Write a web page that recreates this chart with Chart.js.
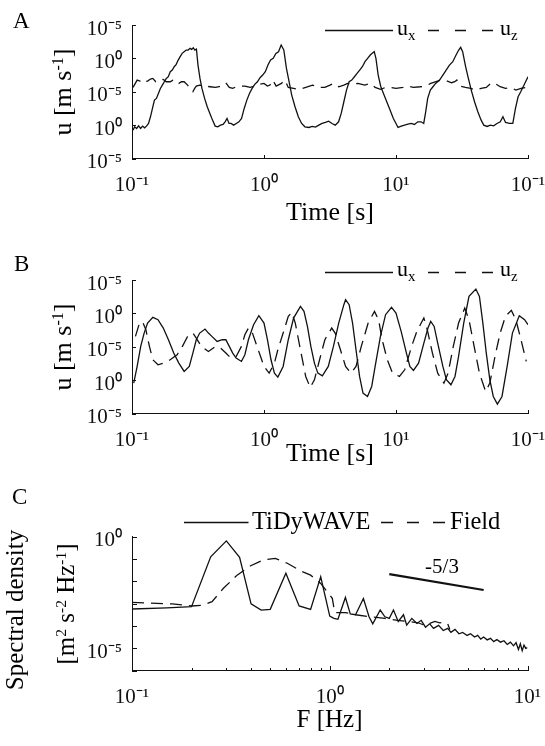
<!DOCTYPE html>
<html><head><meta charset="utf-8">
<script src="https://cdn.jsdelivr.net/npm/chart.js@4"></script>
<style>
html,body{margin:0;padding:0;background:#fff;}
#wrap{position:relative;width:545px;height:746px;overflow:hidden;font-family:"Liberation Serif","Times New Roman",serif;color:#000;}
canvas{position:absolute;left:0;}
.t{position:absolute;white-space:nowrap;line-height:1;}
.r{transform-origin:0 0;transform:rotate(-90deg) translateX(-50%);}
.c{transform:translateX(-50%);}
sup{font-size:0.62em;vertical-align:0.5em;line-height:0;}
sub{font-size:0.68em;vertical-align:-0.36em;line-height:0;}
svg{position:absolute;left:0;top:0;}
</style></head>
<body>
<div id="wrap">
<canvas id="cA" width="545" height="245" style="top:0px"></canvas>
<canvas id="cB" width="545" height="245" style="top:245px"></canvas>
<canvas id="cC" width="545" height="256" style="top:490px"></canvas>
<svg width="545" height="746" id="leg"></svg>
</div>
<script>
// ---------- data ----------
const timeTicks = [0, 1, 2, 3];
const timeTickLabels = ['10⁻¹', '10⁰', '10¹', '10⁻¹'];
const velTicks = [0, 1, 2, 3, 4];
const velTickLabels = ['10⁻⁵', '10⁰', '10⁻⁵', '10⁰', '10⁻⁵'];

const panelA_ux = [[0.008,0.85],[0.02,0.95],[0.035,0.9],[0.05,0.98],[0.065,0.9],[0.08,0.97],[0.095,0.92],[0.11,0.97],[0.125,1.05],[0.14,1.25],[0.155,1.5],[0.17,1.75],[0.185,1.8],[0.2,1.95],[0.215,2.1],[0.23,2.2],[0.245,2.3],[0.26,2.4],[0.275,2.45],[0.29,2.6],[0.305,2.65],[0.32,2.75],[0.335,2.82],[0.35,2.95],[0.365,3.05],[0.38,3.15],[0.395,3.2],[0.41,3.25],[0.425,3.25],[0.44,3.3],[0.452,3.27],[0.464,3.32],[0.476,3.25],[0.488,3.28],[0.5,2.8],[0.515,2.4],[0.53,2.1],[0.55,1.8],[0.57,1.55],[0.59,1.35],[0.61,1.15],[0.63,0.97],[0.65,0.95],[0.67,1.0],[0.69,1.02],[0.705,1.1],[0.72,1.2],[0.735,1.05],[0.75,1.05],[0.77,1.0],[0.79,1.05],[0.81,1.1],[0.83,1.2],[0.85,1.5],[0.87,1.75],[0.89,1.95],[0.91,2.1],[0.93,2.22],[0.95,2.3],[0.97,2.42],[0.99,2.5],[1.01,2.6],[1.03,2.8],[1.05,2.95],[1.07,3.0],[1.09,3.15],[1.11,3.2],[1.13,3.4],[1.15,3.25],[1.17,2.7],[1.19,2.3],[1.21,1.9],[1.235,1.55],[1.26,1.25],[1.285,1.05],[1.31,0.95],[1.34,0.93],[1.365,0.96],[1.39,0.94],[1.415,1.0],[1.44,1.05],[1.465,1.08],[1.49,1.12],[1.515,1.05],[1.54,1.0],[1.565,1.1],[1.585,1.35],[1.605,1.7],[1.625,2.05],[1.645,2.3],[1.665,2.35],[1.685,2.45],[1.705,2.55],[1.725,2.65],[1.745,2.75],[1.765,2.9],[1.785,3.0],[1.805,3.1],[1.82,3.15],[1.835,3.2],[1.848,3.0],[1.865,2.5],[1.885,2.15],[1.905,1.95],[1.93,1.7],[1.955,1.45],[1.98,1.2],[2.0,1.05],[2.015,0.93],[2.04,0.97],[2.065,1.0],[2.09,1.03],[2.115,1.05],[2.14,1.02],[2.165,1.1],[2.19,1.1],[2.21,1.05],[2.225,1.4],[2.24,1.8],[2.26,2.05],[2.28,2.15],[2.3,2.25],[2.33,2.35],[2.355,2.5],[2.38,2.65],[2.405,2.8],[2.43,2.9],[2.455,3.1],[2.475,3.25],[2.49,3.33],[2.505,3.2],[2.525,2.8],[2.545,2.45],[2.57,2.05],[2.595,1.7],[2.62,1.4],[2.645,1.15],[2.665,1.0],[2.69,0.96],[2.715,1.0],[2.74,0.98],[2.765,1.05],[2.79,1.1],[2.81,1.25],[2.83,1.08],[2.86,1.05],[2.885,1.05],[2.905,1.5],[2.925,1.85],[2.945,2.0],[2.97,2.2],[3.0,2.45]];

const panelA_uz = [[0.008,2.13],[0.039,2.35],[0.06,2.32],[0.079,2.37],[0.1,2.3],[0.118,2.32],[0.14,2.38],[0.158,2.4],[0.18,2.3],[0.197,2.3],[0.22,2.35],[0.237,2.37],[0.26,2.3],[0.289,2.3],[0.31,2.35],[0.329,2.35],[0.355,2.25],[0.375,2.3],[0.395,2.3],[0.421,2.2],[0.447,2.05],[0.461,2.0],[0.475,2.1],[0.487,2.17],[0.513,2.2],[0.553,2.17],[0.592,2.15],[0.632,2.13],[0.66,2.15],[0.684,2.2],[0.711,2.27],[0.737,2.13],[0.763,2.1],[0.79,2.15],[0.816,2.17],[0.855,2.17],[0.895,2.13],[0.934,2.17],[0.974,2.23],[1.0,2.25],[1.026,2.17],[1.045,2.2],[1.066,2.35],[1.092,2.17],[1.132,2.25],[1.158,2.35],[1.184,2.13],[1.224,2.1],[1.263,2.07],[1.316,2.13],[1.368,2.2],[1.421,2.13],[1.461,2.13],[1.5,2.2],[1.526,2.25],[1.566,2.15],[1.605,2.2],[1.632,2.25],[1.658,2.23],[1.711,2.25],[1.763,2.2],[1.803,2.25],[1.842,2.13],[1.882,2.07],[1.921,2.13],[1.961,2.13],[2.0,2.1],[2.053,2.13],[2.092,2.17],[2.132,2.13],[2.184,2.15],[2.224,2.17],[2.263,2.25],[2.303,2.3],[2.342,2.35],[2.382,2.33],[2.421,2.27],[2.445,2.3],[2.461,2.35],[2.487,2.17],[2.526,2.13],[2.566,2.1],[2.605,2.05],[2.645,2.1],[2.684,2.13],[2.724,2.27],[2.75,2.25],[2.789,2.15],[2.829,2.1],[2.868,2.13],[2.908,2.05],[2.947,2.1],[2.987,2.13]];

const panelB_ux = [[0.013,0.91],[0.039,1.41],[0.066,2.01],[0.092,2.41],[0.118,2.71],[0.158,2.88],[0.197,2.81],[0.237,2.56],[0.276,2.21],[0.316,1.81],[0.355,1.51],[0.395,1.26],[0.434,1.41],[0.461,1.81],[0.487,2.21],[0.513,2.41],[0.553,2.53],[0.579,2.41],[0.605,2.31],[0.645,2.16],[0.684,2.21],[0.711,2.21],[0.737,2.01],[0.763,1.81],[0.789,1.66],[0.829,1.56],[0.855,1.76],[0.882,2.21],[0.921,2.66],[0.961,2.93],[1.0,2.71],[1.026,2.21],[1.053,1.61],[1.079,1.21],[1.105,1.09],[1.145,1.41],[1.184,2.21],[1.224,2.86],[1.276,3.21],[1.303,3.06],[1.329,2.61],[1.355,2.01],[1.382,1.51],[1.408,1.21],[1.442,1.13],[1.487,1.41],[1.526,2.01],[1.566,2.71],[1.605,3.26],[1.618,3.41],[1.645,3.26],[1.671,2.71],[1.697,1.91],[1.724,1.11],[1.75,0.61],[1.784,0.51],[1.816,0.81],[1.842,1.41],[1.882,2.31],[1.921,2.96],[1.966,3.18],[2.0,3.01],[2.039,2.46],[2.079,1.81],[2.105,1.41],[2.132,1.29],[2.171,1.51],[2.211,2.11],[2.242,2.56],[2.263,2.76],[2.289,2.61],[2.316,2.11],[2.355,1.41],[2.382,1.01],[2.416,0.86],[2.447,1.11],[2.474,1.71],[2.513,2.71],[2.553,3.51],[2.605,3.73],[2.632,3.51],[2.658,2.71],[2.684,1.81],[2.711,1.01],[2.737,0.51],[2.768,0.28],[2.803,0.51],[2.842,1.41],[2.882,2.41],[2.934,2.93],[2.974,2.81],[3.0,2.66]];

const panelB_uz = [[0.026,2.31],[0.053,2.66],[0.079,2.76],[0.105,2.51],[0.132,2.01],[0.158,1.61],[0.197,1.46],[0.237,1.51],[0.289,1.61],[0.342,1.76],[0.382,2.01],[0.421,2.31],[0.461,2.41],[0.487,2.26],[0.526,2.01],[0.579,1.86],[0.632,2.01],[0.671,1.96],[0.711,1.81],[0.75,1.66],[0.789,1.71],[0.829,2.01],[0.855,2.36],[0.882,2.56],[0.908,2.46],[0.947,2.01],[0.974,1.71],[1.0,1.41],[1.039,1.21],[1.079,1.51],[1.105,1.91],[1.145,2.41],[1.184,2.91],[1.211,3.03],[1.237,2.71],[1.276,1.91],[1.316,1.11],[1.35,0.78],[1.382,1.01],[1.421,1.61],[1.461,2.21],[1.513,2.56],[1.539,2.41],[1.579,1.91],[1.618,1.41],[1.658,1.21],[1.697,1.41],[1.737,2.01],[1.789,2.71],[1.837,3.06],[1.868,2.81],[1.895,2.21],[1.934,1.61],[1.974,1.21],[2.026,1.11],[2.066,1.31],[2.118,2.01],[2.158,2.46],[2.211,2.86],[2.237,2.51],[2.276,1.81],[2.316,1.21],[2.363,0.91],[2.395,1.21],[2.434,2.01],[2.474,2.71],[2.521,3.16],[2.553,2.81],[2.592,2.01],[2.632,1.21],[2.679,0.66],[2.711,0.91],[2.75,1.71],[2.789,2.41],[2.829,2.91],[2.874,3.09],[2.908,2.81],[2.947,2.21],[2.987,1.56]];

const freqTicks = [0.1,0.2,0.3,0.4,0.5,0.6,0.7,0.8,0.9,1,2,3,4,5,6,7,8,9,10];
const freqTickLabels = {0.1:'10⁻¹', 1:'10⁰', 10:'10¹'};
const psdTicks = [1e-6,1e-5,1e-4,1e-3,1e-2,1e-1,1];
const psdTickLabels = {1:'10⁰', 1e-5:'10⁻⁵'};

const tidyFreq = [0.1,0.15,0.2,0.25,0.3,0.35,0.4,0.45,0.5,0.6,0.7,0.8,0.9,1.0,1.05,1.1,1.2,1.27,1.35,1.48,1.58,1.65,1.8,1.9,2.0,2.1,2.22,2.36,2.45,2.6,2.76,2.9,3.05,3.2,3.35,3.55,3.75,3.95,4.1,4.3,4.5,4.7,4.95,5.15,5.4,5.6,5.8,6.0,6.25,6.5,6.75,7.0,7.3,7.6,7.9,8.2,8.5,8.75,9.0,9.2,9.4,9.6,9.8,10];
const tidyPsd = [5.8e-4,6.5e-4,7.4e-4,0.126,0.65,0.12,9.8e-4,5.2e-4,5.6e-4,0.023,7.9e-4,5.6e-4,0.016,2.8e-4,2.2e-4,2.0e-4,1.9e-3,3.5e-4,3.2e-4,1.7e-3,2.6e-4,1.26e-4,5.2e-4,2.6e-4,2.2e-4,5.2e-4,1.6e-4,3.2e-4,1.1e-4,2.2e-4,1.3e-4,1.8e-4,8.9e-5,1.26e-4,7.9e-5,1.07e-4,6.3e-5,7.9e-5,5.2e-5,7.1e-5,4.5e-5,5.2e-5,3.8e-5,4.5e-5,3.2e-5,3.8e-5,2.6e-5,3.2e-5,2.4e-5,2.8e-5,2.0e-5,2.5e-5,1.9e-5,2.2e-5,1.5e-5,1.9e-5,1.3e-5,1.8e-5,8.9e-6,1.6e-5,7.9e-6,1.4e-5,1.0e-5,1.07e-5];

const fieldFreq = [0.1,0.16,0.2,0.226,0.254,0.29,0.34,0.396,0.46,0.53,0.61,0.71,0.8,0.9,1.03,1.06,1.2,1.35,1.6,1.9,2.2,2.5,2.8,3.0,3.2,3.4,3.6,3.8,3.95,4.05];
const fieldPsd = [1.15e-3,9.8e-4,7.9e-4,8.5e-4,1.23e-3,4.9e-3,0.019,0.049,0.091,0.107,0.065,0.030,0.019,8.1e-3,1.74e-3,4.0e-4,4.0e-4,3.2e-4,2.6e-4,2.2e-4,1.8e-4,1.6e-4,1.4e-4,1.1e-4,1.3e-4,1.6e-4,1.4e-4,1.5e-4,1.26e-4,7e-5];

const slopeFreq = [2, 6];
const slopePsd = [0.021, 0.0041];

// ---------- helpers ----------
const FONT = '"Liberation Serif", "Times New Roman", serif';
const INK = '#111';
const DASH = [12, 7];
const LW = 1.3;

const inwardTicks = {
  id: 'inwardTicks',
  afterDraw(chart, args, opts) {
    const ctx = chart.ctx, a = chart.chartArea;
    ctx.save();
    ctx.strokeStyle = INK; ctx.lineWidth = 1;
    ['x', 'y'].forEach(id => {
      const s = chart.scales[id];
      s.ticks.forEach(t => {
        const major = opts.isMajor ? opts.isMajor(id, t.value) : true;
        const len = major ? opts.len : opts.minorLen;
        const p = Math.round(s.getPixelForValue(t.value)) + 0.5;
        ctx.beginPath();
        if (id === 'x') { ctx.moveTo(p, Math.round(a.bottom)); ctx.lineTo(p, Math.round(a.bottom) - len); }
        else { ctx.moveTo(Math.round(a.left), p); ctx.lineTo(Math.round(a.left) + len, p); }
        ctx.stroke();
      });
    });
    ctx.restore();
  }
};

function baseScale(extra) {
  return Object.assign({
    grid: { display: false, drawTicks: false },
    border: { display: true, color: INK, width: 1 },
  }, extra);
}

function timeChart(id, canvasTop, canvasH, areaTop, areaBottom, ux, uz) {
  const pts = a => a.map(([x, y]) => ({ x, y }));
  return new Chart(document.getElementById(id), {
    type: 'line',
    data: { datasets: [
      { label: 'ux', data: pts(ux), borderColor: INK, borderWidth: LW, pointRadius: 0, borderDash: [] },
      { label: 'uz', data: pts(uz), borderColor: INK, borderWidth: LW, pointRadius: 0, borderDash: DASH }
    ]},
    options: {
      responsive: false, animation: false, devicePixelRatio: 1,
      layout: { padding: { top: areaTop - canvasTop, right: 17, left: 0, bottom: 0 } },
      plugins: { legend: { display: false }, tooltip: { enabled: false },
        inwardTicks: { len: 4, minorLen: 4 } },
      scales: {
        x: baseScale({ type: 'linear', min: 0, max: 3,
          afterBuildTicks: s => { s.ticks = timeTicks.map(v => ({ value: v })); },
          afterFit: s => { s.height = canvasH - (areaBottom - canvasTop); s.paddingLeft = 0; s.paddingRight = 0; },
          ticks: { autoSkip: false, maxRotation: 0, padding: 14, color: INK, font: { family: FONT, size: 21 },
            callback: (v, i) => timeTickLabels[timeTicks.indexOf(v)] } }),
        y: baseScale({ type: 'linear', min: 0, max: 4,
          afterBuildTicks: s => { s.ticks = velTicks.map(v => ({ value: v })); },
          afterFit: s => { s.width = 132; s.paddingTop = 0; s.paddingBottom = 0; },
          ticks: { autoSkip: false, padding: 10, labelOffset: 4, color: INK, font: { family: FONT, size: 21 },
            callback: (v) => velTickLabels[velTicks.indexOf(v)] } })
      }
    },
    plugins: [inwardTicks]
  });
}

timeChart('cA', 0, 245, 25, 158.5, panelA_ux, panelA_uz);
timeChart('cB', 245, 245, 280, 413.5, panelB_ux, panelB_uz);

const zip = (f, p) => f.map((x, i) => ({ x, y: p[i] }));
new Chart(document.getElementById('cC'), {
  type: 'line',
  data: { datasets: [
    { label: 'TiDyWAVE', data: zip(tidyFreq, tidyPsd), borderColor: INK, borderWidth: LW, pointRadius: 0 },
    { label: 'Field', data: zip(fieldFreq, fieldPsd), borderColor: INK, borderWidth: LW, pointRadius: 0, borderDash: DASH },
    { label: '-5/3', data: zip(slopeFreq, slopePsd), borderColor: INK, borderWidth: 2.2, pointRadius: 0 }
  ]},
  options: {
    responsive: false, animation: false, devicePixelRatio: 1,
    layout: { padding: { top: 536.7 - 490, right: 17.5, left: 0, bottom: 0 } },
    plugins: { legend: { display: false }, tooltip: { enabled: false },
      inwardTicks: { len: 5, minorLen: 3, isMajor: (id, v) => id === 'y' || freqTickLabels[v] !== undefined } },
    scales: {
      x: baseScale({ type: 'logarithmic', min: 0.1, max: 10,
        afterBuildTicks: s => { s.ticks = freqTicks.map(v => ({ value: v })); },
        afterFit: s => { s.height = 256 - (670.7 - 490); s.paddingLeft = 0; s.paddingRight = 0; },
        ticks: { autoSkip: false, maxRotation: 0, padding: 14, color: INK, font: { family: FONT, size: 21 },
          callback: (v) => freqTickLabels[v] || '' } }),
      y: baseScale({ type: 'logarithmic', min: 1e-6, max: 1,
        afterBuildTicks: s => { s.ticks = psdTicks.map(v => ({ value: v })); },
        afterFit: s => { s.width = 132; s.paddingTop = 0; s.paddingBottom = 0; },
        ticks: { autoSkip: false, padding: 10, labelOffset: 4, color: INK, font: { family: FONT, size: 21 },
          callback: (v) => psdTickLabels[v] || '' } })
    }
  },
  plugins: [inwardTicks]
});

// ---------- text overlays ----------
const wrap = document.getElementById('wrap');
function txt(html, x, baseline, size, mode) {
  const d = document.createElement('div');
  d.className = 't' + (mode ? ' ' + mode : '');
  d.style.fontSize = size + 'px';
  d.innerHTML = html;
  if (mode === 'r') { d.style.left = (x - 0.8375 * size) + 'px'; d.style.top = baseline + 'px'; }
  else { d.style.left = x + 'px'; d.style.top = (baseline - 0.8375 * size) + 'px'; }
  wrap.appendChild(d);
}
txt('A', 13, 28, 23);
txt('B', 14, 271.5, 23);
txt('C', 12, 504, 23);
txt('u [m s<sup>-1</sup>]', 72, 91.7, 26, 'r');
txt('u [m s<sup>-1</sup>]', 72, 346.7, 26, 'r');
txt('Time [s]', 330, 221, 26, 'c');
txt('Time [s]', 330, 462, 26, 'c');
txt('Spectral density', 23, 610, 25, 'r');
txt('[m<sup>2</sup> s<sup>-2</sup> Hz<sup>-1</sup>]', 74, 604, 25, 'r');
txt('F [Hz]', 329.5, 727, 25, 'c');
txt('-5/3', 442, 574, 21, 'c');
txt('u<sub>x</sub>', 397, 35, 22);
txt('u<sub>z</sub>', 500, 35, 22);
txt('u<sub>x</sub>', 397, 276.6, 22);
txt('u<sub>z</sub>', 500, 276.6, 22);
txt('TiDyWAVE', 252, 530, 24.5);
txt('Field', 450, 530, 24.5);

const svg = document.getElementById('leg');
function seg(x1, x2, y, dash) {
  const l = document.createElementNS('http://www.w3.org/2000/svg', 'line');
  l.setAttribute('x1', x1); l.setAttribute('x2', x2); l.setAttribute('y1', y); l.setAttribute('y2', y);
  l.setAttribute('stroke', INK); l.setAttribute('stroke-width', '1.3');
  if (dash) l.setAttribute('stroke-dasharray', dash);
  svg.appendChild(l);
}
seg(325, 393, 30.5, null); seg(428, 494, 30.5, '11 16');
seg(325, 393, 272.5, null); seg(428, 494, 272.5, '11 16');
seg(184, 248.5, 522.5, null); seg(381, 446.6, 522.5, '12 14');
</script>
</body></html>
